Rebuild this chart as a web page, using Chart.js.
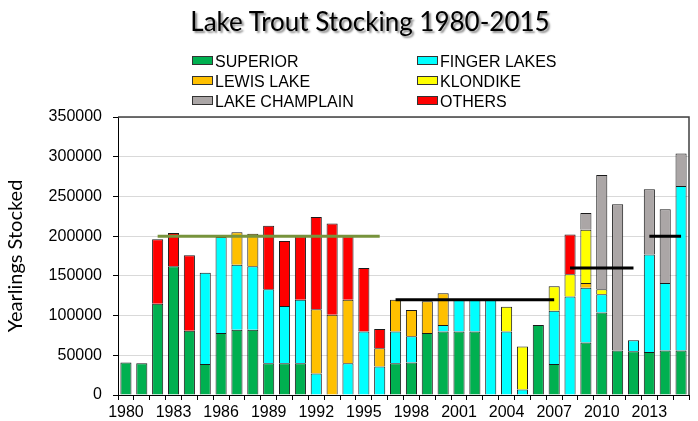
<!DOCTYPE html>
<html>
<head>
<meta charset="utf-8">
<script src="https://cdn.jsdelivr.net/npm/chart.js@4.4.0/dist/chart.umd.min.js"></script>
<style>
  body { margin: 0; background: #fff; }
  #wrap { position: relative; width: 698px; height: 421px; }
  #titulo {
    position: absolute; left: 0; top: 5px; width: 740px; text-align: center;
    font-family: Lato, sans-serif; font-size: 26px; color: #000;
    text-shadow: 2px 2px 2px #8c8c8c;
  }
  #leyenda {
    position: absolute; left: 192px; top: 52px;
    display: grid; grid-template-columns: 225px 200px;
    font-family: "Liberation Sans", Arial, sans-serif; font-size: 16px; line-height: 20px;
  }
  #leyenda span.caja {
    display: inline-block; width: 19px; height: 7px; border: 1px solid #333;
    vertical-align: 2px; margin-right: 2px;
  }
</style>
</head>
<body>
<div id="wrap">
  <canvas id="chartTrucha"></canvas>
  <div id="titulo">Lake Trout Stocking 1980-2015</div>
  <div id="leyenda"></div>
</div>
<script>
const anios = ['1980','1981','1982','1983','1984','1985','1986','1987','1988','1989',
  '1990','1991','1992','1993','1994','1995','1996','1997','1998','1999',
  '2000','2001','2002','2003','2004','2005','2006','2007','2008','2009',
  '2010','2011','2012','2013','2014','2015'];

const superior = [41000, 40000, 115000, 162000, 81000, 39000, 78000, 82000, 82000, 40000,
  40000, 40000, null, null, null, null, null, 40000, 41000, 78000,
  80000, 80000, 80000, null, null, null, 88000, 39000, null, 66000,
  104000, 56000, 55000, 54000, 56000, 56000];

const fingerLakes = [null, null, null, null, null, 115000, 121000, 82000, 80000, 93000,
  72000, 80000, 27000, null, 40000, 80000, 36000, 40000, 33000, null,
  8000, 40000, 40000, 120000, 80000, 7000, null, 67000, 124000, 69000,
  23000, null, 14000, 123000, 85000, 207000];

const lewisLake = [null, null, null, null, null, null, null, 41000, 41000, null,
  null, null, 81000, 101000, 80000, null, 23000, 40000, 33000, 40000,
  40000, null, null, null, null, null, null, null, null, 6000,
  null, null, null, null, null, null];

const klondike = [null, null, null, null, null, null, null, null, null, null,
  null, null, null, null, null, null, null, null, null, null,
  null, null, null, null, 31000, 54000, null, 31000, 28000, 67000,
  6000, null, null, null, null, null];

const lakeChamplain = [null, null, null, null, null, null, null, null, null, null,
  null, null, null, null, null, null, null, null, null, null,
  null, null, null, null, null, null, null, null, null, 21000,
  144000, 184000, null, 82000, 93000, 41000];

const otros = [null, null, 81000, 42000, 95000, null, null, null, null, 80000,
  82000, 80000, 116000, 115000, 80000, 80000, 24000, null, null, null,
  null, null, null, null, null, null, null, null, 50000, null,
  null, null, null, null, null, null];

// metas de siembra (lineas horizontales)
const meta1 = [{x: '1982', y: 200000}, {x: '1996', y: 200000}];
const meta2 = [{x: '1997', y: 120000}, {x: '2007', y: 120000}];
const meta3 = [{x: '2008', y: 160000}, {x: '2012', y: 160000}];
const meta4 = [{x: '2013', y: 200000}, {x: '2015', y: 200000}];

const yTicks = [0, 50000, 100000, 150000, 200000, 250000, 300000, 350000];

function barra(label, data, color) {
  return {
    type: 'bar', label: label, data: data, backgroundColor: color,
    borderColor: '#1a1a1a', borderWidth: 1, order: 1,
    barPercentage: 0.7, categoryPercentage: 1
  };
}
function linea(data, color, pila) {
  return {
    type: 'line', label: '', data: data, borderColor: color, borderWidth: 3,
    pointRadius: 0, fill: false, order: 0, stack: pila
  };
}

const bordeArea = {
  id: 'bordeArea',
  afterDraw(chart) {
    const a = chart.chartArea, c = chart.ctx;
    c.save();
    c.strokeStyle = '#404040';
    c.lineWidth = 1.5;
    c.beginPath();
    c.moveTo(a.left, a.top);
    c.lineTo(a.right, a.top);
    c.lineTo(a.right, a.bottom);
    c.stroke();
    c.restore();
  }
};

const ctx = document.getElementById('chartTrucha');
let grafico = new Chart(ctx, {
  data: {
    labels: anios,
    datasets: [
      barra('SUPERIOR', superior, '#00b050'),
      barra('FINGER LAKES', fingerLakes, '#00ffff'),
      barra('LEWIS LAKE', lewisLake, '#ffc000'),
      barra('KLONDIKE', klondike, '#ffff00'),
      barra('LAKE CHAMPLAIN', lakeChamplain, '#aba6a6'),
      barra('OTHERS', otros, '#ff0000'),
      linea(meta1, '#77933c', 'm1'),
      linea(meta2, '#000000', 'm2'),
      linea(meta3, '#000000', 'm3'),
      linea(meta4, '#000000', 'm4')
    ]
  },
  options: {
    responsive: true,
    maintainAspectRatio: false,
    animation: false,
    layout: { padding: { top: 117, left: 0, right: 9, bottom: 0 } },
    plugins: { legend: { display: false }, tooltip: { enabled: false } },
    scales: {
      x: {
        stacked: true,
        afterFit: (s) => { s.height = 26; },
        grid: { display: true, drawOnChartArea: false, tickLength: 5, tickColor: '#000', offset: true },
        border: { color: '#000', width: 1 },
        ticks: {
          autoSkip: false, maxRotation: 0, padding: 3, color: '#000',
          font: { family: 'Liberation Sans', size: 16 },
          callback: (v, i) => (i % 3 === 0 ? anios[i] : '')
        }
      },
      y: {
        stacked: true,
        min: 0, max: 350000,
        afterFit: (s) => { s.width = 118; },
        afterBuildTicks: (s) => { s.ticks = yTicks.map(v => ({ value: v })); },
        grid: { color: '#d9d9d9', tickColor: '#000', tickLength: 5 },
        border: { color: '#000', width: 1 },
        ticks: {
          padding: 11, color: '#000',
          font: { family: 'Liberation Sans', size: 16 },
          callback: (v) => String(v)
        },
        title: {
          display: true, text: 'Yearlings Stocked', color: '#000',
          font: { family: 'Lato', size: 20 }, padding: { top: 4, bottom: 0 }
        }
      }
    }
  },
  plugins: [bordeArea]
});

// leyenda en dos columnas
const leyenda = document.getElementById('leyenda');
grafico.data.datasets.filter(d => d.type === 'bar').forEach((d) => {
  const item = document.createElement('div');
  item.innerHTML = '<span class="caja" style="background:' + d.backgroundColor + '"></span>' + d.label;
  leyenda.appendChild(item);
});
</script>
</body>
</html>
